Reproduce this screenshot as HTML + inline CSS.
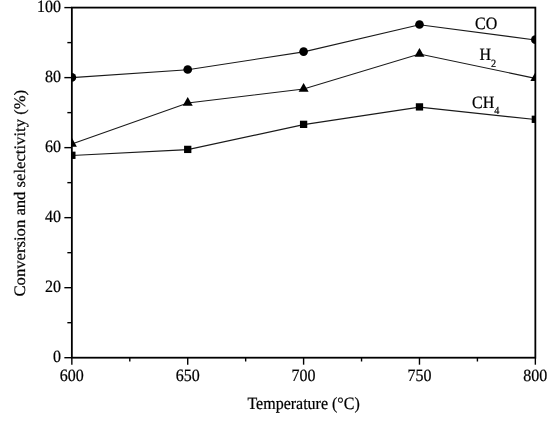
<!DOCTYPE html>
<html><head><meta charset="utf-8"><style>
html,body{margin:0;padding:0;background:#fff;width:550px;height:421px;overflow:hidden}
svg{display:block;will-change:transform;text-rendering:geometricPrecision;font-family:"Liberation Serif",serif;fill:#000}
text{stroke:#000;stroke-width:0.22px}
</style></head><body>
<svg width="550" height="421" viewBox="0 0 550 421">
<defs><clipPath id="c"><rect x="71.85" y="7.60" width="463.50" height="350.10"/></clipPath></defs>
<polyline points="71.85,77.65 187.72,69.75 303.60,51.85 419.48,24.75 535.35,39.95" fill="none" stroke="#1a1a1a" stroke-width="1.1"/>
<polyline points="71.85,143.95 187.72,103.05 303.60,89.05 419.48,54.05 535.35,78.35" fill="none" stroke="#1a1a1a" stroke-width="1.1"/>
<polyline points="71.85,155.55 187.72,149.65 303.60,124.60 419.48,107.15 535.35,119.55" fill="none" stroke="#1a1a1a" stroke-width="1.1"/>
<g clip-path="url(#c)" fill="#000"><circle cx="71.85" cy="77.40" r="4.35"/><circle cx="187.72" cy="69.50" r="4.35"/><circle cx="303.60" cy="51.60" r="4.35"/><circle cx="419.48" cy="24.50" r="4.35"/><circle cx="535.35" cy="39.70" r="4.35"/><polygon points="71.85,137.83 66.85,146.63 76.85,146.63"/><polygon points="187.72,96.93 182.72,105.73 192.72,105.73"/><polygon points="303.60,82.93 298.60,91.73 308.60,91.73"/><polygon points="419.48,47.93 414.48,56.73 424.48,56.73"/><polygon points="535.35,72.23 530.35,81.03 540.35,81.03"/><rect x="68.20" y="151.65" width="7.3" height="7.3"/><rect x="184.07" y="145.75" width="7.3" height="7.3"/><rect x="299.95" y="120.70" width="7.3" height="7.3"/><rect x="415.83" y="103.25" width="7.3" height="7.3"/><rect x="531.70" y="115.65" width="7.3" height="7.3"/></g>
<rect x="71.85" y="7.60" width="463.50" height="350.10" fill="none" stroke="#000" stroke-width="1.8"/>
<g stroke="#000" stroke-width="1.4"><line x1="64.35" y1="357.70" x2="71.85" y2="357.70"/><line x1="67.35" y1="322.69" x2="71.85" y2="322.69"/><line x1="64.35" y1="287.68" x2="71.85" y2="287.68"/><line x1="67.35" y1="252.67" x2="71.85" y2="252.67"/><line x1="64.35" y1="217.66" x2="71.85" y2="217.66"/><line x1="67.35" y1="182.65" x2="71.85" y2="182.65"/><line x1="64.35" y1="147.64" x2="71.85" y2="147.64"/><line x1="67.35" y1="112.63" x2="71.85" y2="112.63"/><line x1="64.35" y1="77.62" x2="71.85" y2="77.62"/><line x1="67.35" y1="42.61" x2="71.85" y2="42.61"/><line x1="64.35" y1="7.60" x2="71.85" y2="7.60"/><line x1="71.85" y1="357.70" x2="71.85" y2="364.70"/><line x1="129.79" y1="357.70" x2="129.79" y2="361.50"/><line x1="187.72" y1="357.70" x2="187.72" y2="364.70"/><line x1="245.66" y1="357.70" x2="245.66" y2="361.50"/><line x1="303.60" y1="357.70" x2="303.60" y2="364.70"/><line x1="361.54" y1="357.70" x2="361.54" y2="361.50"/><line x1="419.48" y1="357.70" x2="419.48" y2="364.70"/><line x1="477.41" y1="357.70" x2="477.41" y2="361.50"/><line x1="535.35" y1="357.70" x2="535.35" y2="364.70"/></g>
<text transform="translate(60.95,362.20) scale(1,1.08)" text-anchor="end" font-size="16">0</text><text transform="translate(60.95,292.18) scale(1,1.08)" text-anchor="end" font-size="16">20</text><text transform="translate(60.95,222.16) scale(1,1.08)" text-anchor="end" font-size="16">40</text><text transform="translate(60.95,152.14) scale(1,1.08)" text-anchor="end" font-size="16">60</text><text transform="translate(60.95,82.12) scale(1,1.08)" text-anchor="end" font-size="16">80</text><text transform="translate(60.95,12.10) scale(1,1.08)" text-anchor="end" font-size="16">100</text><text transform="translate(71.85,381.40) scale(1,1.08)" text-anchor="middle" font-size="16">600</text><text transform="translate(187.72,381.40) scale(1,1.08)" text-anchor="middle" font-size="16">650</text><text transform="translate(303.60,381.40) scale(1,1.08)" text-anchor="middle" font-size="16">700</text><text transform="translate(419.48,381.40) scale(1,1.08)" text-anchor="middle" font-size="16">750</text><text transform="translate(535.35,381.40) scale(1,1.08)" text-anchor="middle" font-size="16">800</text>
<text transform="translate(303.60,409.40) scale(1,1.08)" text-anchor="middle" font-size="16">Temperature (°C)</text>
<text transform="translate(24.6,193.2) scale(1,1.04) rotate(-90)" text-anchor="middle" font-size="16">Conversion and selectivity (%)</text>
<text transform="translate(475.00,28.80) scale(1,1.08)" font-size="16">CO</text>
<text transform="translate(479.50,59.80) scale(1,1.08)" font-size="16">H<tspan font-size="10.2" dy="6.3">2</tspan></text>
<text transform="translate(472.00,107.80) scale(1,1.08)" font-size="16">CH<tspan font-size="10.2" dy="5.5">4</tspan></text>
</svg>
</body></html>
